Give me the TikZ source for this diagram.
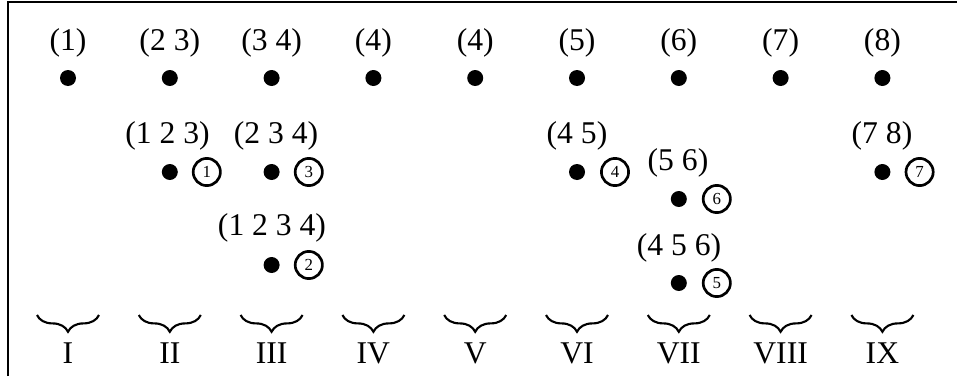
\documentclass[tikz,border=0pt]{standalone}
\usepackage{fontspec}
\setmainfont{Liberation Serif}
\usetikzlibrary{decorations.pathreplacing}
\tikzset{
  dot/.style={circle, fill=black, inner sep=0pt, minimum size=0.4cm},
  perm/.style={font=\fontsize{22.5}{26}\selectfont, inner sep=0pt},
  tag/.style={circle, draw=black, line width=1.9pt, inner sep=0pt, minimum size=0.68cm, font=\fontsize{12}{14}\selectfont},
  group/.style={decorate, decoration={brace, mirror, amplitude=0.42cm}, line width=1.5pt}
}

\begin{document}
\begin{tikzpicture}
\useasboundingbox (0,0) rectangle (23.925,9.4);
\draw[black, line width=1.2pt] (0.2,0) -- (0.2,9.35) -- (23.925,9.35);
% top row
\foreach \i/\t in {1/{(1)},2/{(2 3)},3/{(3 4)},4/{(4)},5/{(4)},6/{(5)},7/{(6)},8/{(7)},9/{(8)}}{
  \node[perm] (p\i) at ({1.7+2.545*(\i-1)},8.325) {\t};
  \node[dot] (d\i) at ({1.7+2.545*(\i-1)},7.45) {};
}
% braces and numerals
\foreach \i/\r in {1/I,2/II,3/III,4/IV,5/V,6/VI,7/VII,8/VIII,9/IX}{
  \coordinate (bl\i) at ({1.7+2.545*(\i-1)-0.775},1.525);
  \coordinate (br\i) at ({1.7+2.545*(\i-1)+0.775},1.525);
  \draw[group] (bl\i) -- (br\i);
  \node[perm] (r\i) at ({1.7+2.545*(\i-1)},0.575) {\r};
}
% column II
\node[perm] (p123) at (4.19,6.0) {(1 2 3)};
\node[dot] (d123) at (4.245,5.1) {};
\node[tag] (t1) at (5.17,5.1) {1};
% column III
\node[perm] (p234) at (6.9,6.0) {(2 3 4)};
\node[dot] (d234) at (6.79,5.1) {};
\node[tag] (t3) at (7.72,5.1) {3};
\node[perm] (p1234) at (6.8,3.7) {(1 2 3 4)};
\node[dot] (d1234) at (6.79,2.775) {};
\node[tag] (t2) at (7.72,2.775) {2};
% column VI
\node[perm] (p45) at (14.425,6.0) {(4 5)};
\node[dot] (d45) at (14.425,5.1) {};
\node[tag] (t4) at (15.375,5.1) {4};
% column VII
\node[perm] (p56) at (16.95,5.325) {(5 6)};
\node[dot] (d56) at (16.97,4.425) {};
\node[tag] (t6) at (17.92,4.425) {6};
\node[perm] (p456) at (16.975,3.2) {(4 5 6)};
\node[dot] (d456) at (16.97,2.325) {};
\node[tag] (t5) at (17.92,2.325) {5};
% column IX
\node[perm] (p78) at (22.05,6.0) {(7 8)};
\node[dot] (d78) at (22.06,5.1) {};
\node[tag] (t7) at (22.99,5.1) {7};
\end{tikzpicture}
\end{document}
